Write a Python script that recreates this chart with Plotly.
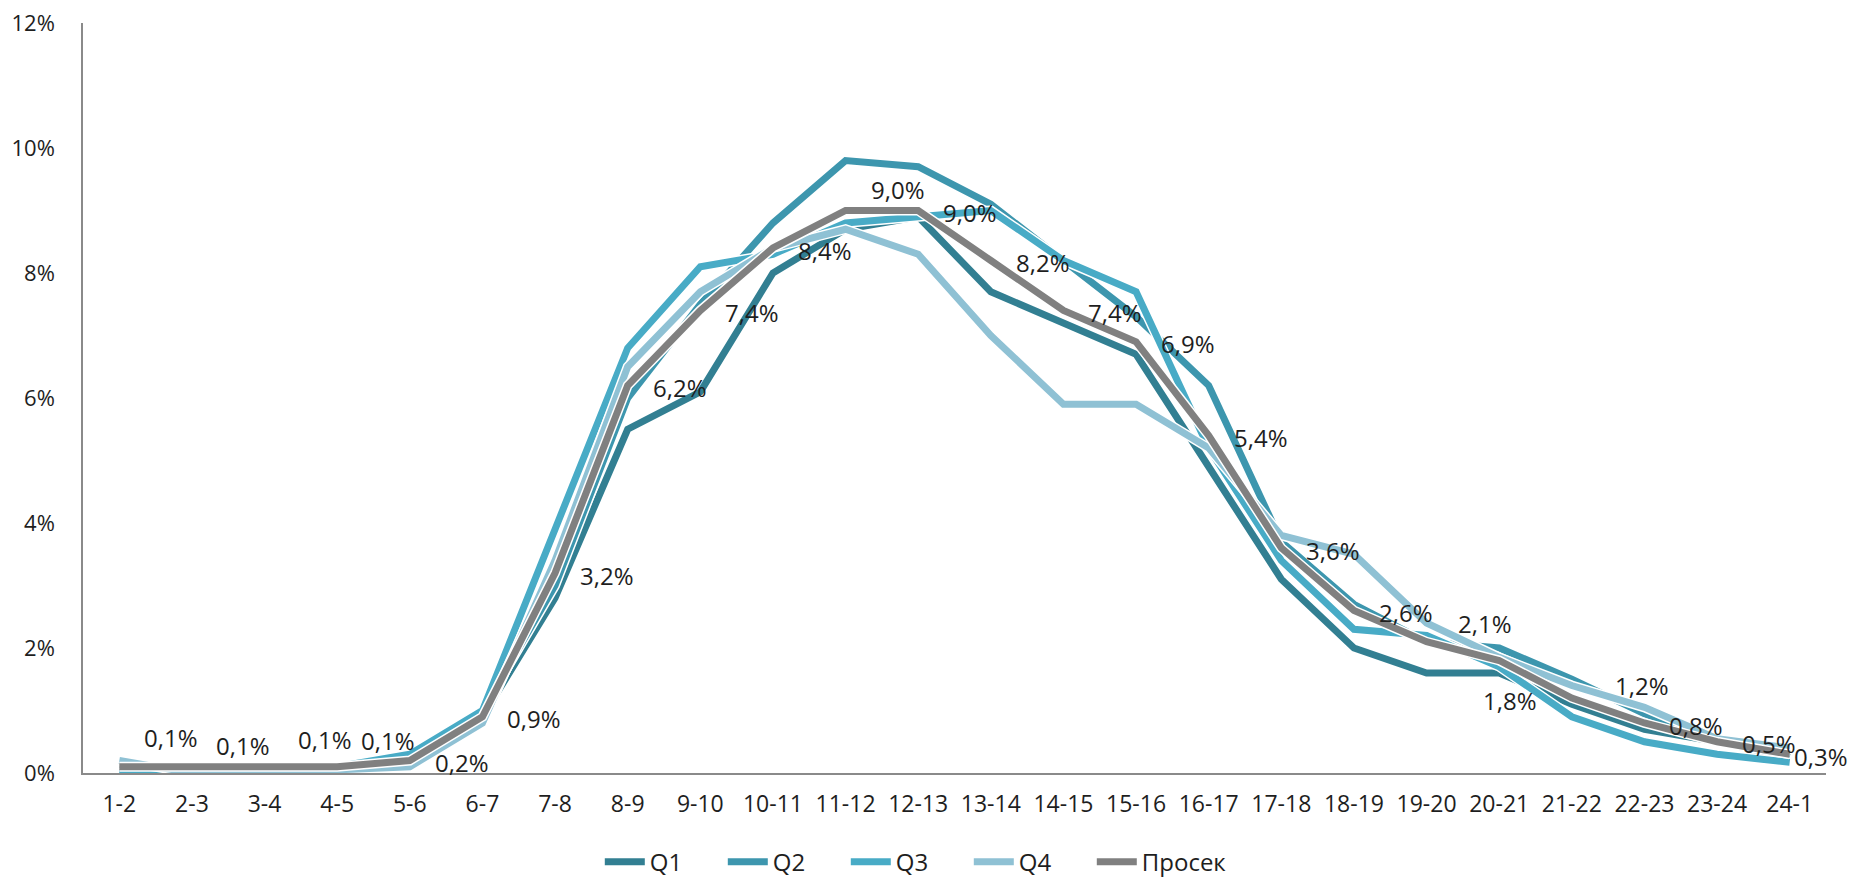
import plotly.graph_objects as go

categories = ["1-2", "2-3", "3-4", "4-5", "5-6", "6-7", "7-8", "8-9", "9-10", "10-11", "11-12", "12-13",
              "13-14", "14-15", "15-16", "16-17", "17-18", "18-19", "19-20", "20-21", "21-22", "22-23",
              "23-24", "24-1"]

q1 = [0.05, 0.1, 0.1, 0.0, 0.2, 0.9, 2.8, 5.5, 6.1, 8.0, 8.7, 8.9, 7.7, 7.2, 6.7, 4.9, 3.1, 2.0, 1.6, 1.6, 1.1, 0.7, 0.5, 0.25]
q2 = [0.05, 0.1, 0.1, 0.1, 0.3, 1.0, 3.0, 6.0, 7.5, 8.8, 9.8, 9.7, 9.1, 8.2, 7.3, 6.2, 3.7, 2.7, 2.1, 2.0, 1.5, 0.95, 0.55, 0.3]
q3 = [0.0, 0.1, 0.1, 0.1, 0.3, 1.0, 3.9, 6.8, 8.1, 8.3, 8.8, 8.9, 9.0, 8.2, 7.7, 5.2, 3.4, 2.3, 2.2, 1.7, 0.9, 0.5, 0.3, 0.17]
q4 = [0.2, 0.0, 0.0, 0.05, 0.1, 0.8, 3.4, 6.5, 7.7, 8.4, 8.7, 8.3, 7.0, 5.9, 5.9, 5.2, 3.8, 3.5, 2.4, 1.85, 1.4, 1.05, 0.55, 0.4]
prosek = [0.1, 0.1, 0.1, 0.1, 0.2, 0.9, 3.2, 6.2, 7.4, 8.4, 9.0, 9.0, 8.2, 7.4, 6.9, 5.4, 3.6, 2.6, 2.1, 1.8, 1.2, 0.8, 0.5, 0.3]

series_names = ["Q1", "Q2", "Q3", "Q4", "Просек"]
series_values = [q1, q2, q3, q4, prosek]
series_colors = ["#327F92", "#3D96AE", "#48ABC6", "#8FC1D4", "#808080"]

y_ticks = [0, 2, 4, 6, 8, 10, 12]

FONT = "Open Sans"
TEXT = "#1e1e1e"

# label placement (px offsets from the data point), default right of point
default_dx, default_dy = 52, -2
label_offsets = {0: (52, 29), 1: (51, 21), 2: (60, 27), 3: (51, 26), 10: (52, 21),
                 18: (58, 18), 19: (11, -40), 20: (70, 13), 23: (31, -2)}

fig = go.Figure()
for name, vals, col in zip(series_names, series_values, series_colors):
    fig.add_trace(go.Scatter(x=categories, y=vals, mode="lines", showlegend=False,
                             hoverinfo="skip", line=dict(color="white", width=10)))
    fig.add_trace(go.Scatter(x=categories, y=vals, mode="lines", name=name,
                             line=dict(color=col, width=7)))

# empty spacer entry so the last legend label is not clipped
fig.add_trace(go.Scatter(x=[None], y=[None], mode="lines", name=" ", hoverinfo="skip",
                         line=dict(color="rgba(0,0,0,0)", width=1)))

annotations = []
for i, (c, v) in enumerate(zip(categories, prosek)):
    dx, dy = label_offsets.get(i, (default_dx, default_dy))
    annotations.append(dict(x=c, y=v, xref="x", yref="y", text=f"{v:.1f}".replace(".", ",") + "%",
                            showarrow=False, xanchor="center", yanchor="middle",
                            xshift=dx, yshift=dy, font=dict(family=FONT, size=24, color=TEXT)))

fig.update_layout(
    width=1870, height=879,
    margin=dict(l=75, r=52, t=15, b=114, autoexpand=False),
    paper_bgcolor="white", plot_bgcolor="white",
    font=dict(family=FONT, size=23, color=TEXT),
    annotations=annotations,
    legend=dict(orientation="h", x=0.2965, xanchor="left", y=-0.119, yanchor="middle",
                font=dict(family=FONT, size=24, color=TEXT),
                entrywidth=68, entrywidthmode="pixels", itemwidth=40,
                bgcolor="rgba(0,0,0,0)"),
    xaxis=dict(type="category", range=[-0.5, len(categories) - 0.5], showgrid=False,
               zeroline=False, showline=True, linecolor="#8a8a8a", linewidth=1.5, ticks="",
               tickangle=0, ticklabelstandoff=10, tickfont=dict(family=FONT, size=23, color=TEXT)),
    yaxis=dict(range=[0, 12], tickvals=y_ticks, ticktext=[f"{t}%" for t in y_ticks],
               showgrid=False, zeroline=False, showline=True, linecolor="#8a8a8a",
               linewidth=1.5, ticks="", ticklabelstandoff=22, ticklabeloverflow="allow",
               tickfont=dict(family=FONT, size=22, color=TEXT)),
)

fig.write_html("out.html")
